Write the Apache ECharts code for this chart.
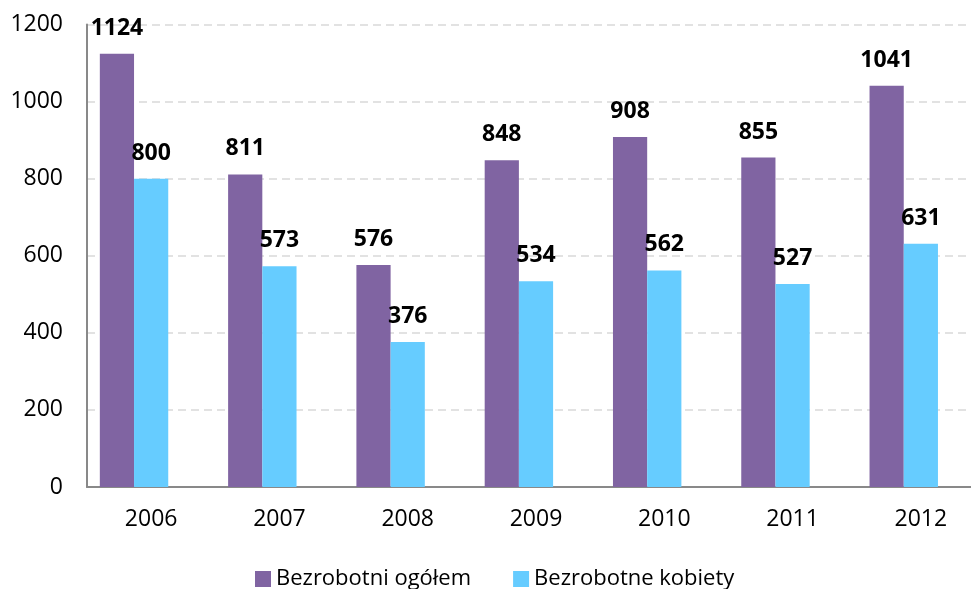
<!DOCTYPE html>
<html><head><meta charset="utf-8">
<script src="https://cdn.jsdelivr.net/npm/echarts@6/dist/echarts.min.js"></script>
<style>html,body{margin:0;padding:0;background:#fff}#c{width:971px;height:589px}</style>
</head><body><div id="c"></div>
<script>
const categories = ['2006','2007','2008','2009','2010','2011','2012'];
const ogolem = [1124, 811, 576, 848, 908, 855, 1041];
const kobiety = [800, 573, 376, 534, 562, 527, 631];
const yTicks = [0, 200, 400, 600, 800, 1000, 1200];
const empty = categories.map(() => null);

const font = '"Open Sans", "Noto Sans", sans-serif';
const chart = echarts.init(document.getElementById('c'));
const lbl = {show: true, position: 'top', distance: 14, color: '#000', fontWeight: 'bold', fontSize: 23, fontFamily: font};
chart.setOption({
  animation: false,
  grid: {left: 87, width: 898, top: 24.5, height: 462.5, outerBoundsMode: 'none', containLabel: false},
  legend: {
    top: 563, left: 250, itemGap: 42, itemWidth: 16, itemHeight: 16, icon: 'rect',
    textStyle: {fontSize: 22, fontFamily: font, color: '#000'},
    data: ['Bezrobotni ogółem', 'Bezrobotne kobiety']
  },
  xAxis: {
    type: 'category', data: categories,
    axisLine: {lineStyle: {color: '#898989', width: 2}},
    axisTick: {show: false},
    axisLabel: {fontSize: 23, fontFamily: font, color: '#000', margin: 21}
  },
  yAxis: {
    type: 'value', min: 0, max: 1200, interval: 200,
    axisLine: {show: true, lineStyle: {color: '#898989', width: 2}},
    axisTick: {show: false},
    axisLabel: {fontSize: 23, fontFamily: font, color: '#000', margin: 24,
      formatter: v => yTicks.includes(v) ? String(v) : ''},
    splitLine: {lineStyle: {color: '#d9d9d9', type: [8, 5], width: 1.5}}
  },
  series: [
    {name: 'Bezrobotni ogółem', type: 'bar', data: ogolem, barGap: '0%', barCategoryGap: '20%',
     itemStyle: {color: '#8064A2'}, label: lbl},
    {name: 'Bezrobotne kobiety', type: 'bar', data: kobiety, barGap: '0%', barCategoryGap: '20%',
     itemStyle: {color: '#66CCFF'}, label: lbl},
    {name: 'ukryta', type: 'bar', data: empty, barGap: '0%', barCategoryGap: '20%',
     itemStyle: {color: 'transparent'}, silent: true}
  ]
});
</script></body></html>
